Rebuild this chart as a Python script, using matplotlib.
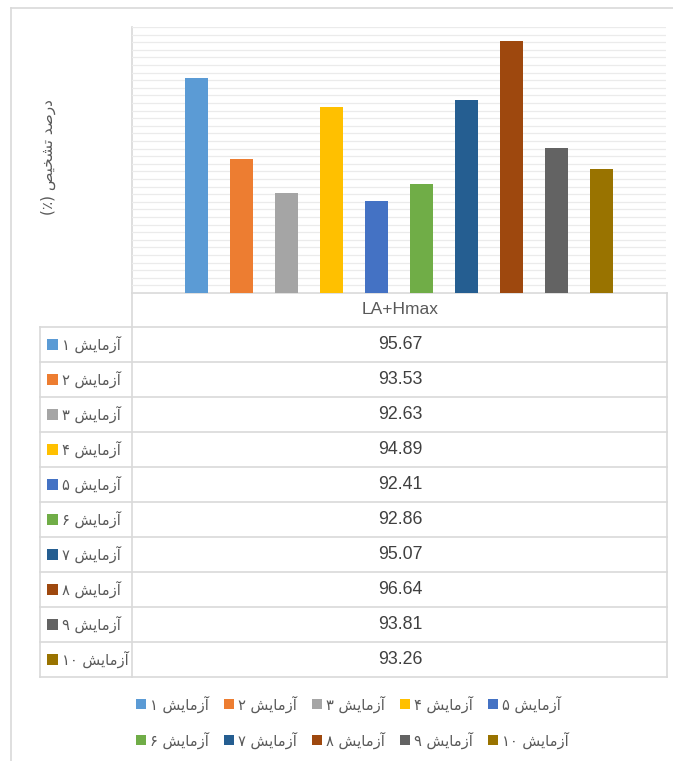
import numpy as np
import matplotlib
matplotlib.use('Agg')
import matplotlib.pyplot as plt
from matplotlib.patches import Rectangle

# 数据
category = 'LA+Hmax'
labels = ['آزمایش ۱', 'آزمایش ۲', 'آزمایش ۳', 'آزمایش ۴', 'آزمایش ۵',
          'آزمایش ۶', 'آزمایش ۷', 'آزمایش ۸', 'آزمایش ۹', 'آزمایش ۱۰']
values = [95.67, 93.53, 92.63, 94.89, 92.41, 92.86, 95.07, 96.64, 93.81, 93.26]
colors = ['#5B9BD5', '#ED7D31', '#A5A5A5', '#FFC000', '#4472C4',
          '#70AD47', '#255E91', '#9E480E', '#636363', '#997300']
y_label = 'درصد تشخیص (٪)'

# 简单的波斯文字形处理 (matplotlib 不做阿拉伯文连写和从右到左排版)
FORMS = {
    'آ': (0xFE81, 0xFE82, None, None),
    'ا': (0xFE8D, 0xFE8E, None, None),
    'ز': (0xFEAF, 0xFEB0, None, None),
    'ر': (0xFEAD, 0xFEAE, None, None),
    'د': (0xFEA9, 0xFEAA, None, None),
    'م': (0xFEE1, 0xFEE2, 0xFEE3, 0xFEE4),
    'ی': (0xFBFC, 0xFBFD, 0xFEF3, 0xFEF4),
    'ش': (0xFEB5, 0xFEB6, 0xFEB7, 0xFEB8),
    'ص': (0xFEB9, 0xFEBA, 0xFEBB, 0xFEBC),
    'ت': (0xFE95, 0xFE96, 0xFE97, 0xFE98),
    'خ': (0xFEA5, 0xFEA6, 0xFEA7, 0xFEA8),
}
DIGITS = '۰۱۲۳۴۵۶۷۸۹'
MIRROR = str.maketrans('()', ')(')


def shape(word):
    out = ''
    for i, ch in enumerate(word):
        if ch not in FORMS:
            out += ch
            continue
        prev = word[i - 1] if i > 0 else ''
        nxt = word[i + 1] if i + 1 < len(word) else ''
        prev_join = prev in FORMS and FORMS[prev][2] is not None
        next_join = nxt in FORMS
        iso, fin, ini, med = FORMS[ch]
        if prev_join and next_join and med:
            out += chr(med)
        elif prev_join:
            out += chr(fin)
        elif next_join and ini:
            out += chr(ini)
        else:
            out += chr(iso)
    return out


def rtl(text):
    toks = []
    for tok in text.split(' '):
        if all(c in DIGITS for c in tok):
            toks.append(tok)
        else:
            toks.append(shape(tok)[::-1].translate(MIRROR))
    return ' '.join(toks[::-1])


W, H = 673, 761
fig = plt.figure(figsize=(W / 100, H / 100), dpi=100)
fig.patch.set_facecolor('white')

# 覆盖整个图的辅助坐标系 (像素坐标), 用于表格和图例
ov = fig.add_axes([0, 0, 1, 1], zorder=0)
ov.set_xlim(0, W)
ov.set_ylim(H, 0)
ov.axis('off')

line_c = '#D9D9D9'
text_c = '#595959'

# 外框
ov.plot([11, 11], [8, H + 5], color=line_c, lw=1.2)
ov.plot([11, W + 5], [8, 8], color=line_c, lw=1.2)

# 柱状图区域
left, right, top, bottom = 132, 666, 27, 293
ax = fig.add_axes([left / W, 1 - bottom / H, (right - left) / W, (bottom - top) / H], zorder=1)
ax.set_facecolor('none')
x = np.arange(len(values))
ax.bar(x, values, width=0.52, color=colors, zorder=3)
ax.set_xlim(-1.43, len(values) - 1 + 1.43)
ax.set_ylim(90, 97)
ax.set_yticks(np.arange(90, 97.01, 0.2))
ax.grid(axis='y', color='#EBEBEB', lw=0.9, zorder=0)
ax.tick_params(left=False, bottom=False, labelleft=False, labelbottom=False)
for s in ax.spines.values():
    s.set_visible(False)

# y 轴标题
ov.text(48, 157, rtl(y_label), rotation=90, ha='center', va='center',
        fontsize=11, color=text_c, family='DejaVu Sans')

# 数据表
row0, row_h = 326.7, 35.06
n = len(values)
table_bottom = row0 + n * row_h
ov.plot([left, left], [top, table_bottom], color=line_c, lw=1.2)
ov.plot([40, 40], [row0, table_bottom], color=line_c, lw=1.2)
ov.plot([667, 667], [bottom, table_bottom], color=line_c, lw=1.2)
ov.plot([left, 667], [bottom, bottom], color=line_c, lw=1.2)
for i in range(n + 1):
    yy = row0 + i * row_h
    ov.plot([40, 667], [yy, yy], color=line_c, lw=1.2)

ov.text(400, 310, category, ha='center', va='center', fontsize=12.5,
        color=text_c, family='Liberation Sans')

for i, (lab, val, col) in enumerate(zip(labels, values, colors)):
    yc = row0 + (i + 0.5) * row_h
    ov.add_patch(Rectangle((47, yc - 5.5), 11, 11, facecolor=col, edgecolor='none'))
    ov.text(62, yc, rtl(lab), ha='left', va='center', fontsize=10.5,
            color=text_c, family='DejaVu Sans')
    ov.text(400, yc, f'{val:.2f}', ha='center', va='center', fontsize=12.8,
            color='#404040', family='Liberation Sans')

# 图例 (两行, 每行五项)
for i, (lab, col) in enumerate(zip(labels, colors)):
    r, c = divmod(i, 5)
    lx = 136 + 88 * c
    ly = 704 + 36 * r
    ov.add_patch(Rectangle((lx, ly - 5), 10, 10, facecolor=col, edgecolor='none'))
    ov.text(lx + 14, ly, rtl(lab), ha='left', va='center', fontsize=10.5,
            color=text_c, family='DejaVu Sans')

plt.savefig('out.png', dpi=100, facecolor='white')
